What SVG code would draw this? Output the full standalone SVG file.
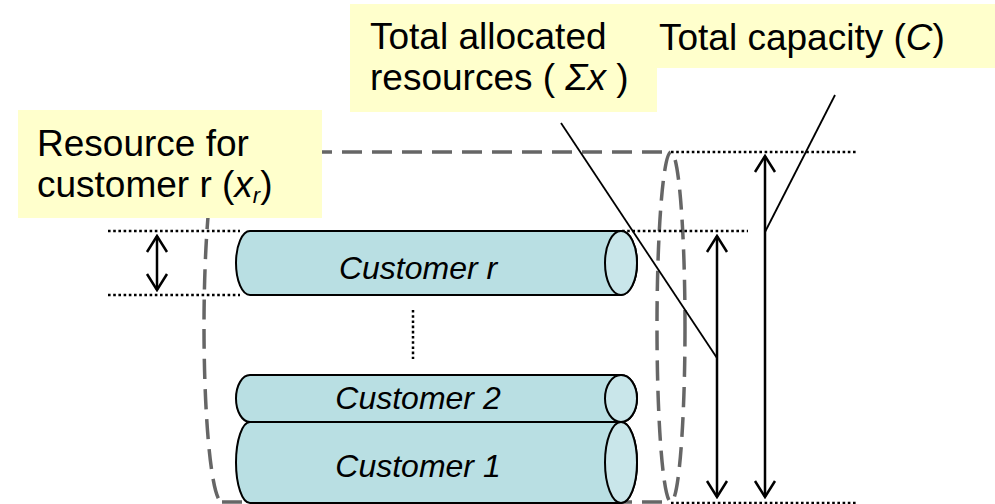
<svg xmlns="http://www.w3.org/2000/svg" width="995" height="504" viewBox="0 0 995 504">
<style>
.lbl{fill:#ffffcc;}
.t{font-family:"Liberation Sans",Arial,sans-serif;font-size:37px;fill:#000;}
.ct{font-family:"Liberation Sans",Arial,sans-serif;font-size:32px;font-style:italic;fill:#000;text-anchor:middle;}
.i{font-style:italic;}
.body{fill:#b9dfe3;stroke:#000;stroke-width:2;}
.cap{fill:#c9e6ea;stroke:#000;stroke-width:2;}
.dash{fill:none;stroke:#666;stroke-width:3.5;stroke-dasharray:20 10;}
.dot{fill:none;stroke:#000;stroke-width:2.5;stroke-dasharray:2.6 2.6;}
.arr{fill:none;stroke:#000;stroke-width:2.5;marker-start:url(#v);marker-end:url(#v);}
.lead{fill:none;stroke:#000;stroke-width:1.8;}
</style>
<defs>
<marker id="v" viewBox="-19 -12 21 24" refX="0" refY="0" markerWidth="21" markerHeight="24" markerUnits="userSpaceOnUse" orient="auto-start-reverse">
<path d="M-16,-10 L0,0 L-16,10" fill="none" stroke="#000" stroke-width="2.5"/>
</marker>
</defs>

<g id="total-cylinder">
<path class="dash" d="M222,152 L671,152"/>
<path class="dash" d="M222,502 L671,502" stroke-dasharray="none"/>
<path class="dash" d="M222,152 A18,175 0 0 0 222,502"/>
<ellipse class="dash" cx="671" cy="327" rx="14" ry="175"/>
</g>

<g id="guides">
<path class="dot" d="M671,152 L858,152"/>
<path class="dot" d="M671,503 L858,503"/>
<path class="dot" d="M108,231 L240,231"/>
<path class="dot" d="M108,295 L240,295"/>
<path class="dot" d="M622,231 L748,231"/>
<path class="dot" d="M413,310 L413,359"/>
</g>

<g id="customer-r">
<path class="body" d="M250,231 L621,231 A16,32 0 0 1 621,295 L250,295 A14,32 0 0 1 250,231 Z"/>
<ellipse class="cap" cx="621" cy="263" rx="16" ry="32"/>
<text class="ct" x="418" y="279">Customer r</text>
</g>

<g id="customer-2">
<path class="body" d="M250,375 L621,375 A16,23.5 0 0 1 621,422 L250,422 A14,23.5 0 0 1 250,375 Z"/>
<ellipse class="cap" cx="621" cy="398.5" rx="16" ry="23.5"/>
<text class="ct" x="418" y="409">Customer 2</text>
</g>

<g id="customer-1">
<path class="body" d="M250,422 L621,422 A16,40.5 0 0 1 621,503 L250,503 A14,40.5 0 0 1 250,422 Z"/>
<ellipse class="cap" cx="621" cy="462.5" rx="16" ry="40.5"/>
<text class="ct" x="418" y="477">Customer 1</text>
</g>

<g id="connectors">
<path class="arr" d="M157,236 L157,290"/>
<path class="arr" d="M717,236 L717,497"/>
<path class="arr" d="M765,156 L765,497"/>
<path class="lead" d="M561,123 L717,358"/>
<path class="lead" d="M835,95 L765,232"/>
</g>

<g id="label-xr">
<rect class="lbl" x="18" y="110" width="304" height="108"/>
<text class="t" x="37" y="156">Resource for</text>
<text class="t" x="37" y="197">customer r (<tspan class="i">x</tspan><tspan class="i" font-size="22" dy="6">r</tspan><tspan dy="-6">)</tspan></text>
</g>

<g id="label-sum">
<rect class="lbl" x="350" y="4" width="307" height="108"/>
<text class="t" x="370" y="49">Total allocated</text>
<text class="t" x="370" y="90">resources ( <tspan class="i">Σx</tspan> )</text>
</g>

<g id="label-c">
<rect class="lbl" x="652" y="4" width="343" height="64"/>
<text class="t" x="659" y="50">Total capacity (<tspan class="i">C</tspan>)</text>
</g>
</svg>
